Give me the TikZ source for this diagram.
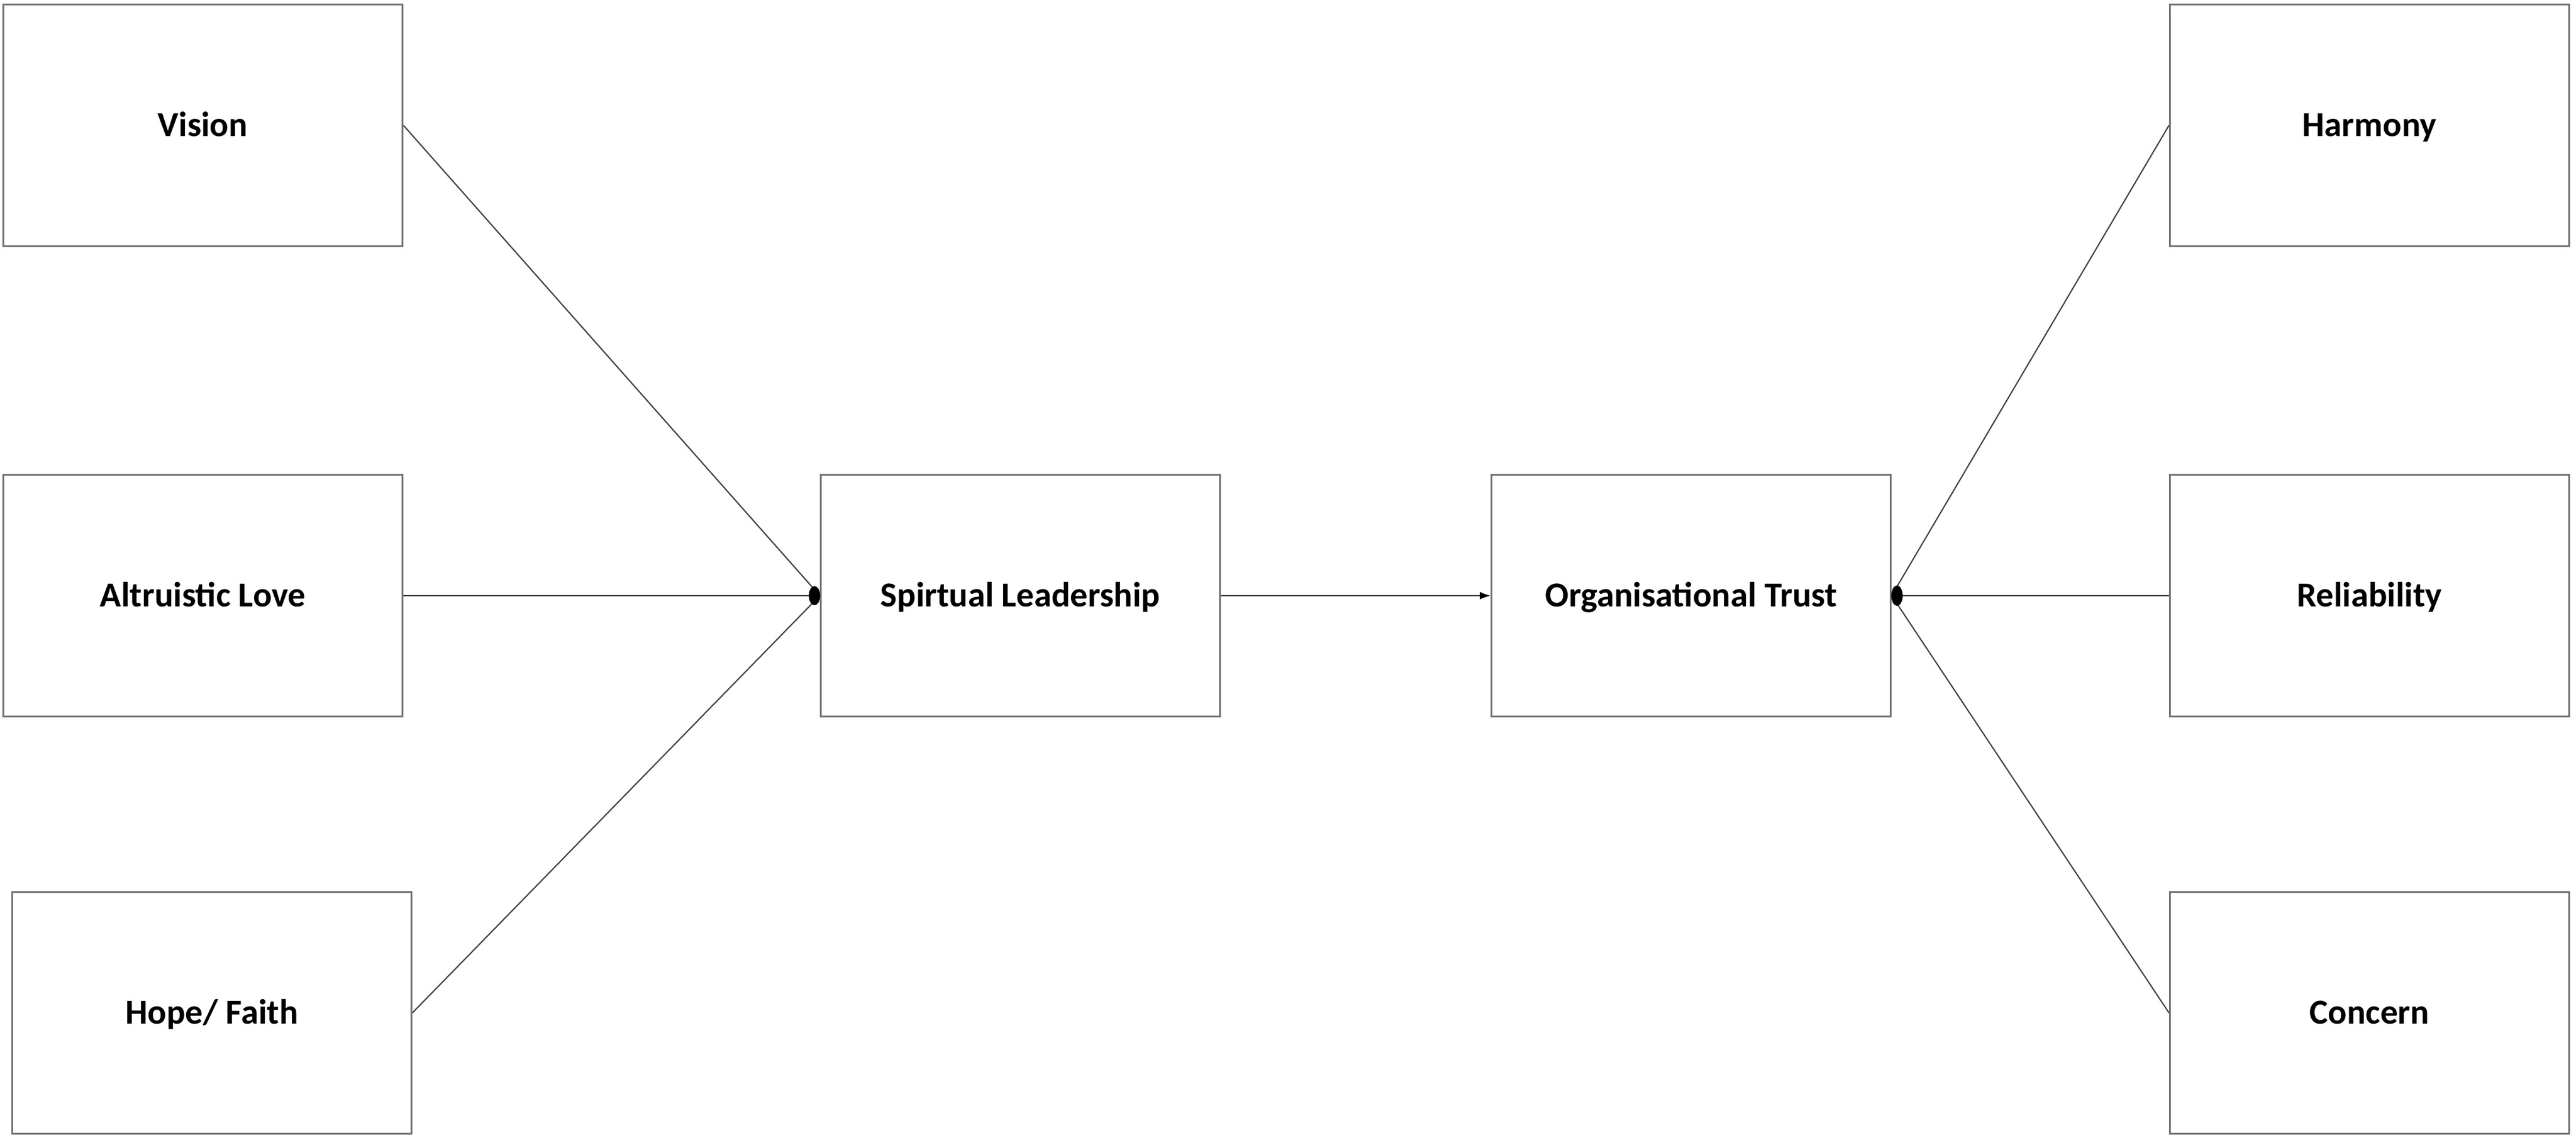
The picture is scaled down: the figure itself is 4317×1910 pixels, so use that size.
\documentclass[tikz,border=0pt]{standalone}
\usepackage{fontspec}
\setmainfont{Carlito}
\usetikzlibrary{arrows.meta}
\begin{document}
\begin{tikzpicture}[x=0.01cm,y=-0.01cm,
  box/.style={draw=black!55, line width=0.8pt, minimum width=6.69cm, minimum height=4.05cm, inner sep=0pt, text height=10.75pt, text depth=0pt, font=\fontsize{16.7}{20}\selectfont\bfseries},
  link/.style={draw=black!75, line width=0.6pt},
  arr/.style={-{Latex[length=0.18cm,width=0.13cm,black]}}]
\useasboundingbox (0,0) rectangle (4317,1910);
\node[box] (vis) at (340,210) {Vision};
\node[box] (alt) at (340,998) {Altruistic Love};
\node[box] (hope) at (355,1697) {Hope/ Faith};
\node[box] (sl) at (1710,998) {Spirtual Leadership};
\node[box] (ot) at (2834,998) {Organisational Trust};
\node[box] (har) at (3971,210) {Harmony};
\node[box] (rel) at (3971,998) {Reliability};
\node[box] (con) at (3971,1697) {Concern};
\draw[link] (vis.east) -- (sl.west);
\draw[link] (alt.east) -- (sl.west);
\draw[link] (hope.east) -- (sl.west);
\draw[link,arr] (sl.east) -- (ot.west);
\draw[link] (har.west) -- (ot.east);
\draw[link] (rel.west) -- (ot.east);
\draw[link] (con.west) -- (ot.east);
\fill[black] ([xshift=-0.09cm]sl.west) ellipse [x radius=0.095cm, y radius=0.16cm];
\fill[black] ([xshift=0.09cm]ot.east) ellipse [x radius=0.095cm, y radius=0.17cm];
\end{tikzpicture}
\end{document}
